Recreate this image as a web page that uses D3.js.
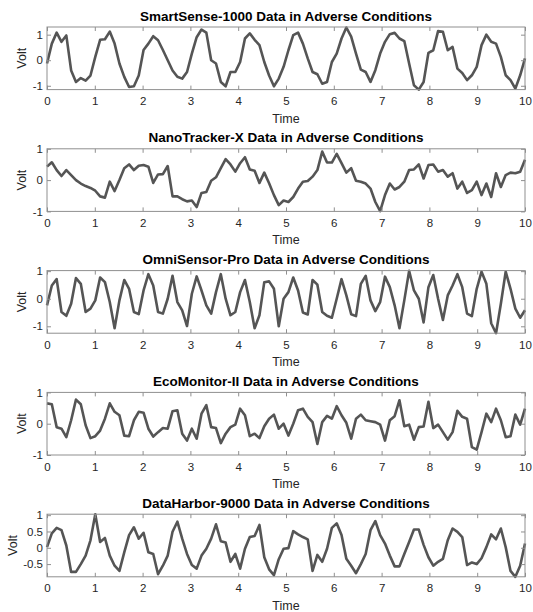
<!DOCTYPE html>
<html>
<head>
<meta charset="utf-8">
<script src="https://cdn.jsdelivr.net/npm/d3@7"></script>
<style>
  body { margin: 0; background: #fff; }
  text { font-family: 'Liberation Sans', Arial, sans-serif; }
</style>
</head>
<body>
<svg class="chart"></svg>
<script>
// panel titles, top to bottom
const titles = [
  'SmartSense-1000 Data in Adverse Conditions',
  'NanoTracker-X Data in Adverse Conditions',
  'OmniSensor-Pro Data in Adverse Conditions',
  'EcoMonitor-II Data in Adverse Conditions',
  'DataHarbor-9000 Data in Adverse Conditions'
];

// 100 samples per sensor
const smartSense = [
  -0.13, 0.65, 1.08, 0.72, 0.97, -0.4, -0.85, -0.7, -0.8, -0.6,
  0.13, 0.8, 0.82, 1.12, 0.65, -0.13, -0.65, -1.05, -1.02, -0.6,
  0.4, 0.65, 0.94, 0.78, 0.4, 0, -0.4, -0.65, -0.72, -0.46,
  0.26, 0.9, 1.2, 1.08, 0.0, -0.13, -0.85, -1.02, -0.46, -0.46,
  -0.07, 0.85, 1.05, 0.8, 0.59, -0.07, -0.6, -1.02, -0.72, -0.26,
  0.39, 0.98, 1.08, 0.65, 0.07, -0.46, -0.55, -0.92, -0.85, -0.07,
  0.26, 0.85, 1.28, 0.92, 0.26, -0.37, -0.46, -0.85, -0.39, 0.26,
  0.72, 1.02, 1.07, 0.85, 0.75, -0.13, -0.98, -1.15, -0.85, 0.29,
  0.39, 1.14, 1.11, 0.39, 0.52, -0.33, -0.5, -0.78, -0.59, -0.26,
  0.59, 1.0, 0.72, 0.65, 0.13, -0.59, -0.78, -1.11, -0.59, 0.07
];

const nanoTracker = [
  0.43, 0.57, 0.32, 0.13, 0.32, 0.16, 0, -0.11, -0.19, -0.25,
  -0.34, -0.52, -0.56, -0.05, -0.35, 0, 0.38, 0.5, 0.32, 0.46,
  0.48, 0.43, -0.09, 0.18, 0.19, 0.45, -0.52, -0.52, -0.61, -0.68,
  -0.65, -0.86, -0.41, -0.38, -0.02, 0.09, 0.38, 0.67, 0.5, 0.27,
  0.54, 0.73, 0.34, 0.3, -0.09, 0.24, -0.1, -0.48, -0.8, -0.65,
  -0.7, -0.54, -0.27, -0.05, -0.03, 0.11, 0.32, 0.91, 0.56, 0.56,
  0.84, 0.54, 0.24, 0.38, -0.02, -0.05, -0.11, -0.27, -0.7, -0.99,
  -0.48, -0.11, -0.3, -0.22, -0.05, 0.32, 0.34, 0.5, 0.05, 0.48,
  0.5, 0.27, 0.32, 0.11, 0.22, -0.27, -0.05, -0.41, -0.32, -0.05,
  -0.48, -0.11, -0.54, 0.22, -0.22, 0.16, 0.24, 0.22, 0.27, 0.65
];

const omniSensor = [
  -0.24, 0.48, 0.71, -0.48, -0.62, -0.18, 0.75, 0.54, -0.48, -0.36,
  -0.06, 0.77, 0.6, -0.12, -1.07, -0.06, 0.68, 0.36, -0.48, -0.56,
  0.3, 0.89, 0.48, -0.48, -0.54, 0, 0.83, -0.12, -0.42, -0.99,
  0.18, 0.81, 0.3, -0.24, -0.54, 0.24, 0.89, 0, -0.6, -0.48,
  0.24, 0.68, -0.12, -1.07, -0.6, 0.6, 0.63, 0.36, -1.0, 0,
  0.24, 0.77, 0.3, -0.5, -0.57, 0.68, 0.51, -0.48, -0.62, -0.69,
  0, 0.71, 0.12, -0.56, -0.63, 0.54, 0.83, -0.06, -0.45, -0.12,
  0.8, 0.42, -0.24, -1.07, -0.06, 1.01, 0.3, 0, -0.86, 0.42,
  0.86, 0, -0.77, 0.12, 0.48, 0.89, 0.42, -0.54, -0.63, 0.36,
  0.98, 0.54, -0.89, -1.25, -0.18, 0.98, 0.36, -0.36, -0.69, -0.42
];

const ecoMonitor = [
  0.65, 0.62, -0.11, -0.16, -0.43, 0.11, 0.77, 0.62, -0.05, -0.46,
  -0.4, -0.22, 0.16, 0.65, 0.38, 0.27, -0.38, -0.4, 0.11, 0.38,
  0.35, -0.16, -0.41, -0.27, -0.14, -0.16, 0.4, 0.43, -0.32, -0.54,
  -0.16, -0.48, 0.32, 0.59, -0.11, -0.14, -0.62, -0.32, -0.11, -0.03,
  0.48, 0.27, -0.4, -0.32, -0.46, -0.08, 0.16, 0.29, -0.16, 0,
  -0.38, 0, 0.43, 0.48, 0.22, 0.05, -0.65, 0.05, 0.25, 0.16,
  0.56, 0.27, 0.03, -0.48, 0.16, 0.29, 0.11, 0.08, 0.05, -0.03,
  -0.54, 0.11, 0.24, 0.75, -0.08, -0.03, -0.51, -0.11, -0.09, 0.7,
  -0.14, -0.03, -0.27, -0.51, -0.27, 0.41, 0.22, 0.16, -0.75, -0.83,
  -0.27, 0.32, 0.05, 0.48, 0.11, -0.43, -0.4, 0.29, -0.03, 0.48
];

const dataHarbor = [
  0.02, 0.44, 0.61, 0.54, 0.07, -0.74, -0.74, -0.5, -0.24, 0.23,
  1.03, 0.18, 0.3, -0.24, -0.55, -0.71, -0.14, 0.39, 0.63, 0.28,
  0.46, -0.14, -0.19, -0.81, -0.55, -0.24, 0.49, 0.8, 0.28, -0.19,
  -0.53, -0.64, -0.24, -0.03, 0.28, 0.72, 0.2, 0.16, -0.43, -0.19,
  -0.64, -0.03, 0.33, 0.36, 0.7, -0.29, -0.66, -0.84, -0.35, -0.03,
  -0.01, 0.51, 0.41, 0.33, 0.26, -0.71, -0.22, -0.43, -0.03, 0.61,
  0.75, 0.39, -0.34, -0.55, -0.78, -0.5, -0.19, 0.54, 0.82, 0.39,
  0.13, -0.24, -0.57, -0.57, -0.19, 0.18, 0.56, 0.56, 0.09, -0.29,
  -0.55, -0.43, -0.34, 0.23, 0.59, 0.49, 0.33, -0.53, -0.45, -0.5,
  -0.32, 0.02, 0.41, 0.26, 0.59, 0.02, -0.71, -0.89, -0.55, 0.13
];

const series = [smartSense, nanoTracker, omniSensor, ecoMonitor, dataHarbor];

// axis limits and ticks per panel
const yLimits = [[-1.15, 1.3], [-1, 1], [-1.25, 1.02], [-1, 1], [-0.89, 1.03]];
const yTickSets = [[-1, 0, 1], [-1, 0, 1], [-1, 0, 1], [-1, 0, 1], [-0.5, 0, 0.5, 1]];
const xTicks = [0, 1, 2, 3, 4, 5, 6, 7, 8, 9, 10];

// sample times, 100 points evenly over 0..10
const time = d3.range(100).map(function (i) { return i * 10 / 99; });

const app = (function () {
  'use strict';

  function init () {
    draw();
  }

  function draw () {
    const width = 533;
    const height = 612;
    const left = 47;
    const right = 525;
    const firstTop = 27;
    const panelStep = 121.8;
    const panelH = 62.6;
    const boxColor = '#8f8f8f';
    const textColor = '#262626';

    const svg = d3.select('.chart')
      .attr('width', width)
      .attr('height', height);

    svg.append('rect')
      .attr('width', width)
      .attr('height', height)
      .attr('fill', '#fff');

    const x = d3.scaleLinear()
      .domain([0, 10])
      .range([left, right]);

    // plain labels like "-1", "0.5"
    const fmt = function (d) { return String(d); };

    function styleAxis (sel) {
      sel.select('.domain').remove();
      sel.selectAll('.tick line').attr('stroke', boxColor);
      sel.selectAll('.tick text')
        .attr('fill', textColor)
        .style('font-size', '11.5px')
        .style('font-family', "'Liberation Sans', Arial, sans-serif");
    }

    series.forEach(function (values, k) {
      const top = firstTop + panelStep * k;
      const bottom = top + panelH;

      const y = d3.scaleLinear()
        .domain(yLimits[k])
        .range([bottom, top]);

      const g = svg.append('g').attr('class', 'panel');

      const line = d3.line()
        .x(function (d, i) { return x(time[i]); })
        .y(function (d) { return y(d); });

      g.append('path')
        .datum(values)
        .attr('d', line)
        .attr('fill', 'none')
        .attr('stroke', '#555')
        .attr('stroke-width', 2.6)
        .attr('stroke-linejoin', 'round');

      g.append('g')
        .attr('transform', 'translate(0,' + bottom + ')')
        .call(d3.axisBottom(x).tickValues(xTicks).tickFormat(fmt).tickSize(-4).tickPadding(7.5))
        .call(styleAxis);

      g.append('g')
        .attr('transform', 'translate(0,' + top + ')')
        .call(d3.axisTop(x).tickValues(xTicks).tickSize(-4).tickFormat(''))
        .call(styleAxis);

      const yAxis = g.append('g')
        .attr('transform', 'translate(' + left + ',0)')
        .call(d3.axisLeft(y).tickValues(yTickSets[k]).tickFormat(fmt).tickSize(-4).tickPadding(4))
        .call(styleAxis);

      g.append('g')
        .attr('transform', 'translate(' + right + ',0)')
        .call(d3.axisRight(y).tickValues(yTickSets[k]).tickSize(-4).tickFormat(''))
        .call(styleAxis);

      g.append('rect')
        .attr('x', left)
        .attr('y', top)
        .attr('width', right - left)
        .attr('height', panelH)
        .attr('fill', 'none')
        .attr('stroke', boxColor)
        .attr('stroke-width', 1);

      g.append('text')
        .attr('x', (left + right) / 2)
        .attr('y', top - 6.5)
        .attr('text-anchor', 'middle')
        .attr('font-weight', 'bold')
        .attr('font-size', 13.5)
        .attr('fill', '#000')
        .text(titles[k]);

      g.append('text')
        .attr('x', (left + right) / 2)
        .attr('y', bottom + 33)
        .attr('text-anchor', 'middle')
        .attr('font-size', 12.5)
        .attr('fill', textColor)
        .text('Time');

      // put the y label just left of the widest tick label
      let labelW = 0;
      yAxis.selectAll('.tick text').each(function () {
        labelW = Math.max(labelW, this.getComputedTextLength());
      });
      const vx = left - 4 - labelW - 6.5;

      g.append('text')
        .attr('transform', 'translate(' + vx + ',' + ((top + bottom) / 2) + ') rotate(-90)')
        .attr('text-anchor', 'middle')
        .attr('font-size', 12.5)
        .attr('fill', textColor)
        .text('Volt');
    });
  }

  return {
    init: init
  };
}());

window.addEventListener('load', app.init);
</script>
</body>
</html>
